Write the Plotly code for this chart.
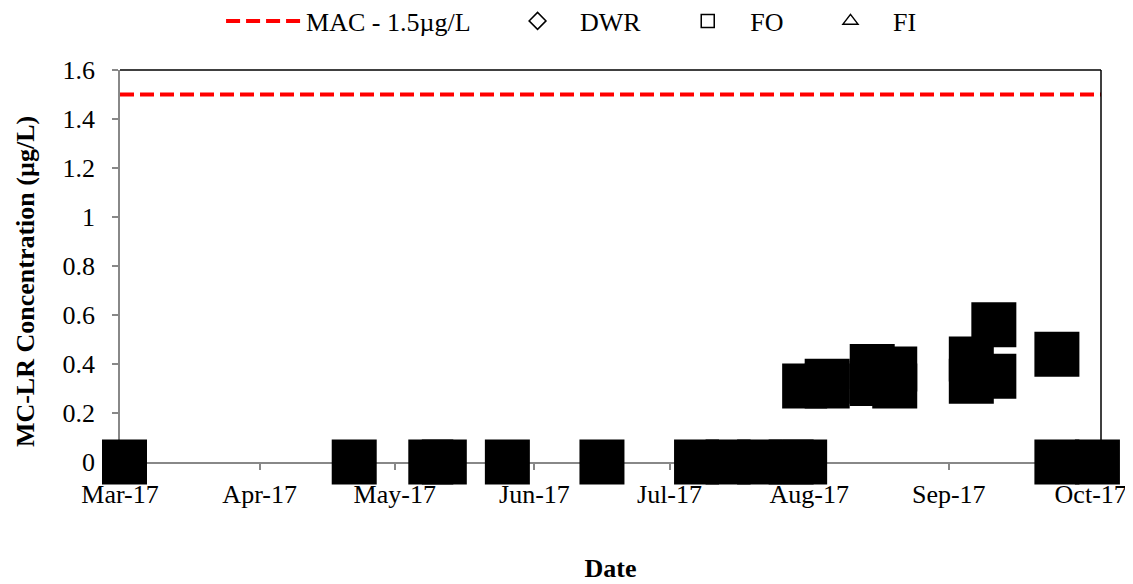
import plotly.graph_objects as go

# ---- data ----
month_ticks = ["2017-03-01", "2017-04-01", "2017-05-01", "2017-06-01",
               "2017-07-01", "2017-08-01", "2017-09-01", "2017-10-02 12:00"]
month_labels = ["Mar-17", "Apr-17", "May-17", "Jun-17", "Jul-17", "Aug-17", "Sep-17", "Oct-17"]
x_range = ["2017-03-01", "2017-10-04 19:00"]

mac_value = 1.5

dwr_dates = ["2017-03-02", "2017-04-22", "2017-05-09", "2017-05-12", "2017-05-26",
             "2017-06-16", "2017-07-07", "2017-07-14", "2017-07-21", "2017-07-28",
             "2017-07-31", "2017-09-25", "2017-10-04"]
dwr_vals = [0, 0, 0, 0, 0, 0, 0, 0, 0, 0, 0, 0, 0]

fo_dates = ["2017-08-05", "2017-08-15", "2017-08-20", "2017-09-06", "2017-09-11"]
fo_vals = [0.31, 0.32, 0.31, 0.33, 0.35]

fi_dates = ["2017-07-31", "2017-08-05", "2017-08-15", "2017-08-20", "2017-09-06",
            "2017-09-11", "2017-09-25"]
fi_vals = [0.31, 0.33, 0.39, 0.38, 0.42, 0.56, 0.44]

FONT = "Liberation Serif"
FS = 26
AX_GREY = "#888888"
PAD = "\u00a0\u00a0\u00a0"

fig = go.Figure()

# MAC line
fig.add_trace(go.Scatter(
    x=x_range, y=[mac_value, mac_value], mode="lines",
    name="MAC - 1.5µg/L" + PAD,
    line=dict(color="#ff0000", width=4, dash="14px,6px"),
    cliponaxis=False,
))

# data series (rendered as large filled squares)
for name, xs, ys in [("DWR", dwr_dates, dwr_vals), ("FO", fo_dates, fo_vals), ("FI", fi_dates, fi_vals)]:
    fig.add_trace(go.Scatter(
        x=xs, y=ys, mode="markers", name=name, legendgroup=name, showlegend=False,
        marker=dict(symbol="square", size=45, color="black", line=dict(width=0)),
        cliponaxis=False,
    ))

# legend entries (open symbols)
for name, sym in [("DWR", "diamond-open"), ("FO", "square-open"), ("FI", "triangle-up-open")]:
    fig.add_trace(go.Scatter(
        x=[None], y=[None], mode="markers", name=name + PAD, legendgroup=name,
        marker=dict(symbol=sym, size=13, color="black", line=dict(width=1.5, color="black")),
    ))

fig.update_layout(
    width=1125, height=576,
    margin=dict(l=112, r=32, t=62, b=122, autoexpand=False),
    paper_bgcolor="white", plot_bgcolor="white",
    font=dict(family=FONT, size=FS, color="black"),
    showlegend=True,
    legend=dict(orientation="h", x=0.47, xanchor="center", y=1.185, yanchor="top",
                font=dict(family=FONT, size=FS), itemwidth=75,
                bgcolor="rgba(0,0,0,0)"),
    xaxis=dict(
        type="date", range=x_range, tickvals=month_ticks, ticktext=month_labels,
        showgrid=False, zeroline=False, showline=True, linecolor=AX_GREY, linewidth=1.5,
        ticks="outside", ticklen=6, tickcolor=AX_GREY, tickwidth=1.5,
        tickfont=dict(family=FONT, size=FS), layer="below traces", ticklabelstandoff=2,
        ticklabeloverflow="allow",
        title=dict(text="<b>Date</b>", font=dict(family=FONT, size=FS), standoff=51),
    ),
    yaxis=dict(
        range=[0, 1.6], dtick=0.2, tick0=0,
        showgrid=False, zeroline=False, showline=True, linecolor=AX_GREY, linewidth=1.5,
        ticks="outside", ticklen=6, tickcolor=AX_GREY, tickwidth=1.5,
        tickfont=dict(family=FONT, size=FS), layer="below traces", ticklabelstandoff=12,
    ),
    annotations=[
        dict(text="<b>MC-LR Concentration (µg/L)</b>", textangle=-90,
             xref="paper", yref="paper", x=-0.0968, y=0.459,
             xanchor="center", yanchor="middle", showarrow=False,
             font=dict(family=FONT, size=FS)),
    ],
    shapes=[
        dict(type="line", xref="paper", yref="paper", x0=0, x1=1, y0=1, y1=1,
             line=dict(color="black", width=1.5)),
        dict(type="line", xref="paper", yref="paper", x0=1, x1=1, y0=0, y1=1,
             line=dict(color="black", width=1.5)),
    ],
)

fig.write_html("out.html")
